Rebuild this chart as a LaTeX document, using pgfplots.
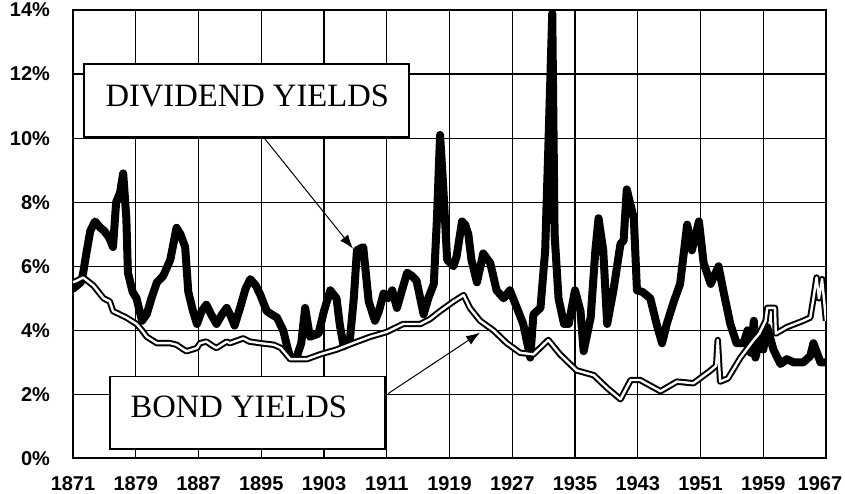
\documentclass[border=0pt]{standalone}
\usepackage{pgfplots}
\pgfplotsset{compat=1.18}
\usepackage{fontspec}
\setmainfont{Liberation Serif}
\newfontfamily\lsans{Liberation Sans}
\usetikzlibrary{arrows.meta}

\pgfplotstableread{
year val
1871.0 5.3
1871.5 5.4
1872.0 5.5
1872.3 5.8
1872.7 6.4
1873.2 7.1
1873.8 7.4
1874.5 7.2
1875.0 7.1
1875.6 6.9
1876.1 6.6
1876.5 8.0
1877.0 8.3
1877.4 8.9
1877.8 7.5
1878.0 5.8
1878.6 5.2
1879.1 5.0
1879.5 4.6
1879.8 4.3
1880.4 4.5
1881.0 5.0
1881.7 5.5
1882.5 5.7
1883.4 6.2
1884.2 7.2
1884.7 7.0
1885.3 6.6
1885.7 5.2
1886.3 4.6
1886.8 4.2
1887.4 4.6
1888.0 4.8
1888.6 4.5
1889.3 4.2
1890.0 4.5
1890.6 4.7
1891.2 4.4
1891.6 4.15
1892.3 4.7
1893.0 5.3
1893.6 5.6
1894.3 5.4
1894.9 5.1
1895.7 4.6
1896.3 4.5
1897.0 4.4
1897.8 4.0
1898.3 3.5
1898.7 3.15
1899.5 3.15
1900.1 3.6
1900.6 4.7
1901.2 3.8
1902.3 3.9
1903.0 4.6
1903.8 5.25
1904.6 5.0
1905.0 4.2
1905.5 3.5
1906.3 3.7
1906.8 5.0
1907.2 6.5
1908.0 6.6
1908.7 4.9
1909.5 4.3
1910.0 4.6
1910.6 5.15
1911.2 5.0
1911.7 5.25
1912.3 4.7
1913.0 5.3
1913.6 5.8
1914.2 5.7
1914.8 5.55
1915.7 4.5
1916.3 5.0
1917.0 5.45
1917.4 7.5
1917.8 10.1
1918.2 8.5
1918.7 6.2
1919.5 6.0
1919.9 6.3
1920.6 7.4
1921.0 7.3
1921.4 7.0
1921.8 6.2
1922.5 5.5
1923.3 6.4
1924.2 6.1
1925.0 5.25
1925.9 5.0
1926.7 5.25
1927.6 4.7
1928.4 4.2
1929.3 3.15
1929.7 4.5
1930.6 4.7
1931.2 6.5
1931.6 9.7
1932.1 13.9
1932.4 7.0
1932.9 5.0
1933.6 4.2
1934.2 4.2
1935.0 5.25
1935.7 4.6
1936.1 3.35
1937.0 4.4
1937.6 6.5
1938.0 7.5
1938.6 6.5
1939.1 4.2
1939.9 5.25
1940.8 6.7
1941.2 6.8
1941.6 8.4
1942.5 7.5
1942.9 5.25
1943.6 5.2
1944.6 5.0
1945.4 4.2
1946.1 3.6
1946.7 4.2
1947.6 4.9
1948.4 5.45
1949.3 7.3
1949.9 6.5
1950.8 7.4
1951.4 6.1
1952.3 5.45
1953.3 6.0
1953.9 5.25
1954.8 4.2
1955.6 3.6
1956.5 3.6
1957.0 4.0
1957.4 3.3
1957.8 4.3
1958.0 3.15
1958.6 3.8
1959.0 3.4
1959.5 4.1
1960.3 3.4
1961.2 2.95
1962.0 3.1
1962.9 3.0
1964.1 3.0
1965.0 3.2
1965.4 3.6
1966.3 3.0
1967.0 3.0
}\divtable

\pgfplotstableread{
year val
1871.0 5.5
1871.5 5.55
1872.3 5.65
1873.6 5.4
1874.9 5.0
1875.7 4.9
1876.1 4.6
1877.8 4.4
1879.1 4.2
1879.8 4.0
1880.4 3.8
1881.7 3.6
1883.4 3.6
1884.2 3.55
1885.1 3.4
1885.5 3.35
1886.8 3.45
1887.2 3.6
1888.0 3.65
1888.9 3.5
1889.3 3.45
1890.6 3.65
1891.0 3.6
1892.7 3.75
1893.5 3.65
1894.9 3.6
1896.6 3.55
1897.5 3.45
1898.7 3.1
1900.8 3.1
1902.5 3.25
1904.6 3.4
1906.7 3.6
1908.9 3.8
1911.0 3.95
1913.1 4.2
1915.3 4.2
1916.5 4.35
1917.8 4.6
1919.5 4.9
1920.8 5.1
1921.6 4.7
1922.9 4.3
1924.6 4.0
1926.3 3.6
1928.0 3.3
1929.7 3.25
1931.6 3.7
1933.1 3.25
1935.2 2.75
1937.4 2.6
1939.1 2.2
1940.8 1.85
1942.1 2.45
1943.3 2.45
1945.9 2.1
1948.0 2.4
1950.1 2.35
1952.3 2.75
1953.0 2.9
1953.2 3.7
1953.5 2.4
1954.5 2.5
1956.1 3.15
1957.8 3.7
1958.5 3.9
1959.3 4.3
1959.5 4.7
1960.5 4.7
1960.6 3.9
1962.0 4.1
1964.1 4.3
1965.0 4.4
1965.4 5.0
1965.8 5.65
1966.1 5.0
1966.5 5.6
1967.0 4.3
}\bondtable

\begin{document}
\begin{tikzpicture}
\useasboundingbox (-36.5pt,-17.25pt) rectangle (386pt,229.25pt);
\begin{axis}[
  at={(0,0)}, anchor=south west,
  scale only axis, width=376.5pt, height=224.25pt,
  xmin=1871, xmax=1967, ymin=0, ymax=14,
  xtick={1871,1879,1887,1895,1903,1911,1919,1927,1935,1943,1951,1959},
  xticklabels={1871,1879,1887,1895,1903,1911,1919,1927,1935,1943,1951,1959},
  extra x ticks={1967},
  extra x tick labels={1967},
  extra x tick style={xticklabel style={xshift=-3pt}},
  ytick={0,2,4,6,8,10,12,14},
  yticklabels={0\%,2\%,4\%,6\%,8\%,10\%,12\%,14\%},
  grid=major,
  major grid style={black, line width=0.6pt},
  major tick length=0pt,
  axis line style={black, line width=0.7pt},
  ticklabel style={font=\lsans\bfseries\fontsize{10}{12}\selectfont},
  yticklabel style={xshift=-8pt},
  xticklabel style={yshift=-5.5pt},
]
\addplot[black, line width=4pt, line join=round, line cap=round] table[x=year, y=val] {\divtable};
\addplot[black, line width=1pt, double=white, double distance=1.2pt, line join=round] table[x=year, y=val] {\bondtable};

\draw[black, line width=1.4pt] (rel axis cs:0,0) -- (rel axis cs:1,0);

\draw[black, line width=0.8pt, fill=white] (axis cs:1872.4,12.31) rectangle (axis cs:1913.8,10.04);
\node[anchor=base west, inner sep=0pt, font=\fontsize{16.3}{19}\selectfont] at (axis cs:1875.1,11.0) {DIVIDEND YIELDS};
\draw[black, line width=0.5pt, -{Latex[length=7pt,width=5pt]}] (axis cs:1895.26,10.04) -- (axis cs:1906.7,6.55);

\draw[black, line width=0.8pt, fill=white] (axis cs:1875.7,2.56) rectangle (axis cs:1910.8,0.30);
\node[anchor=base west, inner sep=0pt, font=\fontsize{16.3}{19}\selectfont] at (axis cs:1878.3,1.29) {BOND YIELDS};
\draw[black, line width=0.5pt, -{Latex[length=7pt,width=5pt]}] (axis cs:1911.2,2.03) -- (axis cs:1922.9,3.93);
\end{axis}
\end{tikzpicture}
\end{document}
